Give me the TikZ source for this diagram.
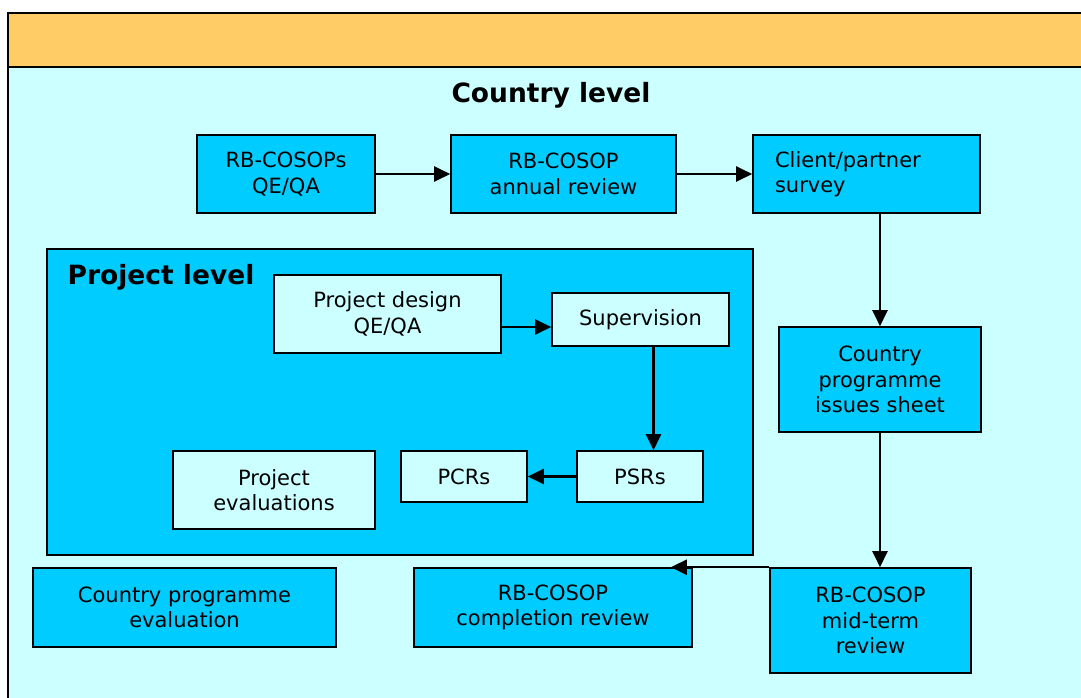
\documentclass[tikz,border=0pt]{standalone}
\usepackage{fontspec}
\setmainfont{DejaVu Sans}
\usetikzlibrary{arrows.meta,positioning}
\definecolor{bandorange}{HTML}{FFCC66}
\definecolor{palecyan}{HTML}{CCFFFF}
\definecolor{boxblue}{HTML}{00CCFF}

\tikzset{
  box/.style={draw, line width=1.6pt, fill=boxblue, align=center, inner sep=0pt,
    font=\fontsize{21}{25.5}\selectfont},
  subbox/.style={box, fill=palecyan},
  flow/.style={-{Triangle[length=16pt,width=15pt]}, line width=2.2pt},
  heading/.style={font=\fontsize{26.5}{31}\selectfont\bfseries, inner sep=0pt},
}

\begin{document}
\begin{tikzpicture}[x=1pt,y=-1pt]
  \useasboundingbox (0,0) rectangle (1081,697);
  \clip (0,0) rectangle (1081,697);
  \fill[white] (0,0) rectangle (1081,697);
  % outer panel
  \filldraw[fill=palecyan, line width=2pt] (8,67) rectangle (1095,712);
  \filldraw[fill=bandorange, line width=2pt] (8,13) rectangle (1095,67);

  \node[heading] (countrylvl) at (551,95) {Country level};

  % country row
  \node[box, minimum width=178pt, minimum height=78pt] (qa) at (286,174) {RB-COSOPs\\QE/QA};
  \node[box, minimum width=225pt, minimum height=78pt] (annual) at (563.5,174) {RB-COSOP\\annual review};
  \node[box, minimum width=227pt, minimum height=78pt, text width=183pt, align=left] (survey) at (866.5,174) {Client/partner\\survey};
  \node[box, minimum width=202pt, minimum height=105pt] (issues) at (880,379.5) {Country\\programme\\issues sheet};
  \node[box, minimum width=201pt, minimum height=105pt] (midterm) at (870.5,620.5) {RB-COSOP\\mid-term\\review};
  \node[box, minimum width=278pt, minimum height=79pt] (completion) at (553,607.5) {RB-COSOP\\completion review};
  \node[box, minimum width=303pt, minimum height=79pt] (cpe) at (184.5,607.5) {Country programme\\evaluation};

  % project level
  \node[box, minimum width=706pt, minimum height=306pt] (projframe) at (400,402) {};
  \node[heading] (projlvl) at (161,277) {Project level};
  \node[subbox, minimum width=227pt, minimum height=78pt] (design) at (387.5,314) {Project design\\QE/QA};
  \node[subbox, minimum width=177pt, minimum height=53pt] (supervision) at (640.5,319.5) {Supervision};
  \node[subbox, minimum width=126pt, minimum height=51pt] (psrs) at (640,476.5) {PSRs};
  \node[subbox, minimum width=126pt, minimum height=51pt] (pcrs) at (464,476.5) {PCRs};
  \node[subbox, minimum width=202pt, minimum height=78pt] (evals) at (274,490) {Project\\evaluations};

  \coordinate (dsout) at ([yshift=-13pt]design.east);
  \coordinate (svout) at ([xshift=13pt]supervision.south);
  \coordinate (cpin) at ([xshift=-22pt]completion.north east);

  \draw[flow] (qa.east) -- (annual.west);
  \draw[flow] (annual.east) -- (survey.west);
  \draw[flow] (issues.north |- survey.south) -- (issues.north);
  \draw[flow] (issues.south) -- (issues.south |- midterm.north);
  \draw[flow] (midterm.north west) -- (cpin);
  \draw[flow] (dsout) -- (supervision.west |- dsout);
  \draw[flow] (svout) -- (svout |- psrs.north);
  \draw[flow] (psrs.west) -- (pcrs.east);
\end{tikzpicture}
\end{document}
